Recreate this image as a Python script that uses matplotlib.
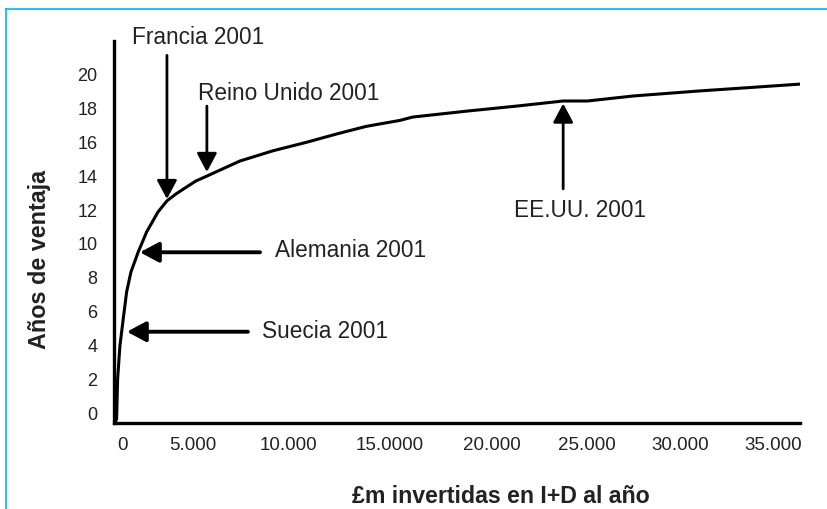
import matplotlib.pyplot as plt
from matplotlib.lines import Line2D

plt.rcParams['font.family'] = ['Liberation Sans', 'DejaVu Sans']

# curve: £m invested per year vs years of advantage
inversion = [-431, -339, -285, -162, 16, 199, 431, 824, 1276, 1885, 2369,
             2854, 3339, 3931, 4523, 6300, 8094, 9892, 11508, 13100, 14900,
             15600, 18500, 21200, 23700, 25000, 27500, 31100, 33800, 36450]
anios = [-0.65, -0.41, 1.95, 3.91, 5.5, 7.1, 8.28, 9.47, 10.65, 11.83, 12.49,
         12.9, 13.25, 13.67, 13.96, 14.85, 15.46, 15.96, 16.45, 16.9, 17.25,
         17.45, 17.8, 18.1, 18.4, 18.4, 18.7, 19.0, 19.2, 19.4]

# tick labels (the original axis is not evenly spaced)
xtick_pos = [0, 3770, 8890, 14380, 19870, 24990, 29990, 35000]
xtick_labels = ['0', '5.000', '10.000', '15.0000', '20.000', '25.000', '30.000', '35.000']
ytick_pos = [0, 2, 4, 6, 8, 10, 12, 14, 16, 18, 20]

# country markers: label, arrow tip, arrow tail, text position, alignment
paises = ['Francia 2001', 'Reino Unido 2001', 'EE.UU. 2001', 'Alemania 2001', 'Suecia 2001']
puntas = [(2370, 12.6), (4520, 14.2), (23700, 18.25), (915, 9.45), (215, 4.75)]
colas = [(2370, 21.1), (4520, 18.1), (23700, 13.2), (7380, 9.45), (6730, 4.75)]
textos = [(4040, 22.2), (8940, 18.9), (24610, 12.0), (8190, 9.6), (7490, 4.85)]
alineado = ['center', 'center', 'center', 'left', 'left']

fig = plt.figure(figsize=(8.28, 5.10), dpi=100)
ax = fig.add_axes([114 / 828, 1 - 424 / 510, (800 - 114) / 828, (424 - 42) / 510])

ax.plot(inversion, anios, color='black', lw=2.2, solid_capstyle='round',
        solid_joinstyle='round')

ax.set_xlim(-480, 36450)
ax.set_ylim(-0.65, 21.95)
for side in ['top', 'right']:
    ax.spines[side].set_visible(False)
for side in ['left', 'bottom']:
    ax.spines[side].set_linewidth(2.4)
ax.set_xticks(xtick_pos)
ax.set_xticklabels(xtick_labels)
ax.set_yticks(ytick_pos)
ax.tick_params(axis='x', length=0, pad=9, labelsize=13.5, colors='#222222')
ax.tick_params(axis='y', length=0, pad=12, labelsize=13, colors='#222222')

for nombre, tip, tail, pos, ha in zip(paises, puntas, colas, textos, alineado):
    lw = 2.8 if ha == 'left' else 2.0
    ax.annotate('', xy=tip, xytext=tail, annotation_clip=False,
                arrowprops=dict(arrowstyle='-|>,head_length=0.6,head_width=0.32',
                                mutation_scale=19, lw=lw, color='black',
                                shrinkA=0, shrinkB=0))
    ax.text(pos[0], pos[1], nombre, ha=ha, va='center', fontsize=16.3,
            color='#222222', clip_on=False)

fig.text(40 / 828, 1 - 260 / 510, 'Años de ventaja', rotation=90, ha='center',
         va='center', fontsize=16.8, fontweight='bold', color='#222222')
fig.text(501 / 828, 1 - 497 / 510, '£m invertidas en I+D al año', ha='center',
         va='center', fontsize=16.7, fontweight='bold', color='#222222')

# cyan frame along the top and left edges
fig.add_artist(Line2D([6 / 828, 1], [1 - 10 / 510, 1 - 10 / 510],
                      transform=fig.transFigure, color='#00b4f0', lw=1.2))
fig.add_artist(Line2D([6 / 828, 6 / 828], [0, 1 - 10 / 510],
                      transform=fig.transFigure, color='#00b4f0', lw=1.2))

fig.savefig('out.png', dpi=100)
